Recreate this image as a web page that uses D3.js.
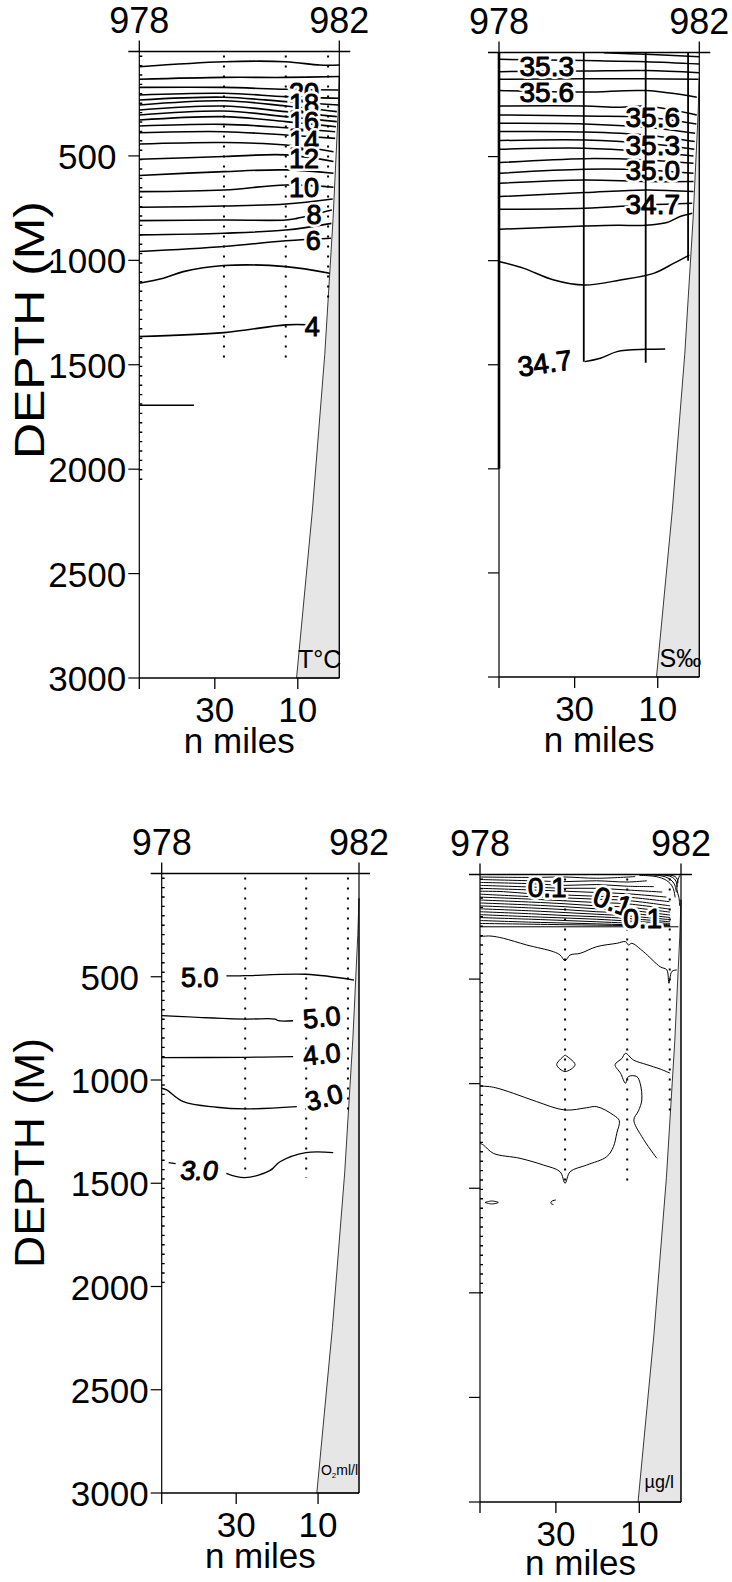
<!DOCTYPE html>
<html><head><meta charset="utf-8">
<script src="https://cdn.jsdelivr.net/npm/d3@7"></script>
<style>body{margin:0;background:#fff} svg text{font-family:"Liberation Sans",Arial,sans-serif}</style>
</head><body><svg id="c" width="732" height="1582"></svg>
<script>
// ---------- DATA (distance in n miles from station 982, depth in m) ----------
const stationNames = ["978", "982"];
const depthTicks = [500, 1000, 1500, 2000, 2500, 3000];
const distTicks = [30, 10];
const distMax = 48.2, depthMax = 3000;
const stationDist = [48.2, 27.8, 12.9, 2.7];
const bathymetry = [[0,120],[0.3,300],[1.5,800],[3.5,1450],[6.5,2200],[10.3,3000]];

// Temperature (°C)
const tempStationDepth = [2080, 1477, 1477, 1180];
const tempContours = [
  [[48.2,73],[27.8,49],[12.9,49],[4.7,65],[0,65]],
  [[48.2,133],[27.8,124],[12.9,124],[0,120]],
  [[48.2,172],[27.8,172],[12.9,181],[0.2,184]],
  [[48.2,208],[27.8,200],[12.9,216],[0.2,224]],
  [[48.2,232],[27.8,219],[12.9,240],[0.2,256]],
  [[48.2,256],[27.8,236],[12.9,261],[0.6,288]],
  [[48.2,280],[27.8,261],[12.9,288],[0.6,312]],
  [[48.2,304],[27.8,285],[12.9,312],[0.6,336]],
  [[48.2,328],[27.8,312],[12.9,336],[0.8,360]],
  [[48.2,357],[27.8,349],[12.9,365],[1.0,384]],
  [[48.2,389],[27.8,384],[12.9,400],[1.0,416]],
  [[48.2,443],[27.8,436],[12.9,448],[1.4,480]],
  [[48.2,516],[27.8,503],[12.9,495],[1.4,527]],
  [[48.2,594],[27.8,575],[12.9,567],[1.4,583]],
  [[48.2,671],[27.8,663],[12.9,639],[1.4,650]],
  [[48.2,746],[27.8,740],[12.9,730],[1.6,706]],
  [[48.2,810],[27.8,807],[12.9,807],[10.2,799],[1.8,759]],
  [[48.2,878],[27.8,870],[12.9,855],[1.9,823]],
  [[48.2,958],[27.8,934],[12.9,906],[2.0,894]],
  [[48.2,1110],[42.4,1086],[37.6,1054],[27.8,1025],[12.9,1030],[2.3,1062]],
  [[48.2,1365],[27.8,1346],[12.9,1309],[7.0,1309]],
  [[48.2,1694],[35.0,1694]]
];
const tempLabelText = ["20","18","16","14","12","10","8","6","4"];
const tempLabelAt = [[8.5,196],[8.5,248],[8.5,336],[8.5,424],[8.5,511],[8.5,649],[6.1,778],[6.3,902],[6.5,1317]];
const tempLabelRot = [0,0,0,0,0,0,0,0,0];

// Salinity (‰)
const salStationDepth = [2000, 1485, 1490, 1000];
const salContours = [
  [[23.0,1],[12.86,9],[0,20]],
  [[48,33],[27.6,39],[12.86,44],[0,55]],
  [[48,92],[27.6,89],[12.86,87],[0,97]],
  [[48,129],[27.6,126],[12.86,126],[0.2,129]],
  [[48,183],[27.6,190],[12.86,183],[0.6,215]],
  [[48,257],[27.6,257],[19.0,263],[12.86,257],[0.6,300]],
  [[48,300],[27.6,305],[12.86,311],[0.7,343]],
  [[48,340],[27.6,343],[12.86,359],[1.0,388]],
  [[48,380],[27.6,382],[12.86,396],[1.1,428]],
  [[48,423],[27.6,420],[12.86,436],[1.2,465]],
  [[48,465],[27.6,460],[12.86,476],[1.4,497]],
  [[48,529],[27.6,510],[12.86,516],[1.4,532]],
  [[48,580],[27.6,561],[12.86,564],[1.4,580]],
  [[48,628],[27.6,612],[12.86,620],[1.4,620]],
  [[48,692],[27.6,673],[12.86,660],[1.4,668]],
  [[48,753],[27.6,748],[12.86,732],[1.7,724]],
  [[48,849],[27.6,834],[19.8,830],[12.86,830],[7.8,817],[4.6,788],[1.7,772]],
  [[48,1005],[42.2,1037],[35.0,1093],[27.6,1117],[19.0,1093],[11.0,1061],[6.2,1013],[2.4,973]],
  [[27.6,1485],[23.8,1469],[19.8,1437],[12.86,1426],[8.2,1424]]
];
const salLabelText = ["35.3","35.6","35.6","35.3","35.0","34.7","34.7"];
const salLabelAt = [[36.7,66],[36.7,190],[11.2,308],[11.2,444],[11.2,564],[11.2,728],[37.2,1491]];
const salLabelRot = [0,0,0,0,0,0,-8];

// Oxygen (ml/l)
const oxyStationDepth = [2000, 1475, 1475, 1150];
const oxyContours = [
  [[32.4,496],[27.9,495],[13.0,488],[1.2,516]],
  [[48.2,688],[27.9,705],[20.5,705],[19.7,713],[16.1,713]],
  [[48.2,892],[27.9,890],[16.1,887]],
  [[48.2,1040],[47.0,1048],[42.9,1105],[34.8,1132],[27.9,1140],[15.2,1129]],
  [[32.4,1452],[27.9,1473],[21.8,1439],[19.3,1396],[13.0,1352],[6.3,1352]],
  [[46.5,1400],[44.8,1405]]
];
const oxyLabelText = ["5.0","5.0","4.0","3.0","3.0"];
const oxyLabelAt = [[38.9,501],[9.1,695],[9.1,874],[8.6,1083],[39.1,1437]];
const oxyLabelRot = [0,-6,-6,-15,0];

// Chlorophyll (µg/l)
const chlStationDepth = [2018, 1476, 1476, 1150];
const chlContours = [
  [[48.2,12],[35.8,14],[27.8,12],[20.2,18],[11,10]],
  [[48.2,24],[35.8,30],[27.8,34],[20.2,30],[13.0,36],[8.2,30]],
  [[48.2,38],[35.8,44],[27.8,52],[20.2,48],[13.0,56],[6.5,58]],
  [[48.2,52],[35.8,60],[27.8,66],[20.2,66],[13.0,74],[4.5,84]],
  [[48.2,66],[35.8,74],[27.8,80],[20.2,86],[13.0,92],[3.5,108]],
  [[48.2,80],[42.6,82],[35.8,92],[27.8,98],[20.2,104],[13.0,108],[2.8,130]],
  [[48.2,94],[35.8,106],[27.8,112],[20.2,118],[13.0,124],[2.6,150]],
  [[48.2,108],[35.8,118],[27.8,126],[20.2,134],[13.0,140],[2.6,166]],
  [[48.2,122],[35.8,132],[27.8,140],[20.2,150],[13.0,156],[2.6,180]],
  [[48.2,136],[35.8,146],[27.8,154],[20.2,164],[13.0,170],[2.6,194]],
  [[48.2,150],[35.8,160],[27.8,168],[20.2,178],[13.0,184],[2.6,206]],
  [[48.2,164],[35.8,174],[27.8,182],[20.2,190],[13.0,198],[2.6,216]],
  [[48.2,178],[35.8,188],[27.8,196],[20.2,202],[13.0,210],[2.6,226]],
  [[48.2,192],[35.8,202],[27.8,208],[20.2,214],[13.0,222],[2.6,234]],
  [[48.2,206],[35.8,214],[27.8,220],[20.2,226],[13.0,232],[2.6,240]],
  [[48.2,220],[35.8,228],[27.8,232],[20.2,236],[13.0,240],[2.6,244]],
  [[48.2,234],[27.8,240],[13.0,244],[2.6,246]],
  [[48.2,250],[0.6,250]],
  [[10,4],[6,10],[3.5,28],[2.0,60],[1.4,110]],
  [[8,2],[4.8,6],[2.8,20],[1.6,45],[1.1,85]],
  [[6,1],[3.6,4],[2.0,14],[1.2,32],[0.9,60]],
  [[4.5,0],[2.6,3],[1.4,10],[0.9,22],[0.7,40]],
  [[0.3,5],[0.8,30],[1.0,70],[0.5,110],[0.3,150]],
  [[48.2,297],[45.8,294],[42.6,305],[37.0,337],[30.6,369],[29.0,385],[27.8,412],[26.6,385],[24.2,377],[20.2,345],[15.4,329],[13.3,321],[12.6,337],[11.8,329],[9.0,369],[5.0,441],[3.4,456],[2.9,520],[2.2,464],[1.0,456]],
  [[27.8,863],[25.4,909],[27.8,942],[29.8,909],[27.8,863]],
  [[2.6,950],[5.0,930],[8.2,909],[11.4,887],[13.3,855],[14.2,880],[15.8,909],[14.5,950],[13.3,998],[12.6,966],[10.6,966],[9.8,998],[9.4,1078],[10.2,1130],[11.3,1173],[9.4,1253],[5.8,1357]],
  [[48.2,1011],[45.0,1017],[40.2,1046],[34.6,1086],[27.8,1126],[22.6,1115],[20.2,1110],[16.2,1150],[14.8,1177],[15.4,1237],[16.2,1301],[17.8,1349],[22.6,1389],[26.6,1421],[27.8,1476],[29.0,1421],[33.0,1389],[38.6,1357],[45.0,1333],[47.4,1293],[48.2,1285]],
  [[47,1568],[45.4,1561],[43.8,1568],[45.4,1575],[47,1568]],
  [[30,1556],[31,1562],[31.2,1572],[30.6,1578]]
];
const chlLabelText = ["0.1","0.1","0.1"];
const chlLabelAt = [[32.1,58],[16.3,127],[9.2,206]];
const chlLabelRot = [0,20,0];

// ---------- LAYOUT ----------
const panels = [
  {x0:139.3,x1:339.3,y0:51.5,y1:678, axisLabels:true, solid:false, lw:1.6, fs:27, depthLabelY:330, depthLabelLen:258,
   contours:tempContours, lt:tempLabelText, la:tempLabelAt, lr:tempLabelRot, st:tempStationDepth, unit:"T°C"},
  {x0:499,x1:699.3,y0:52.5,y1:677, axisLabels:false, solid:true, lw:1.5, fs:28,
   contours:salContours, lt:salLabelText, la:salLabelAt, lr:salLabelRot, st:salStationDepth, unit:"S‰"},
  {x0:161.7,x1:359,y0:873.5,y1:1493, axisLabels:true, solid:false, lw:1.3, fs:27, depthLabelY:1153, depthLabelLen:230,
   contours:oxyContours, lt:oxyLabelText, la:oxyLabelAt, lr:oxyLabelRot, st:oxyStationDepth, unit:"O2", italicLast:true},
  {x0:480,x1:681,y0:874.5,y1:1502, axisLabels:false, solid:false, lw:1.0, fs:28,
   contours:chlContours, lt:chlLabelText, la:chlLabelAt, lr:chlLabelRot, st:chlStationDepth, unit:"µg/l"}
];

const svg = d3.select("#c");

function drawPanel(p){
  const x = d3.scaleLinear().domain([distMax, 0]).range([p.x0, p.x1]);
  const y = d3.scaleLinear().domain([0, depthMax]).range([p.y0, p.y1]);
  const g = svg.append("g");
  const lin = d3.line().x(d => x(d[0])).y(d => y(d[1]));

  // sea floor
  g.append("path").attr("d", lin(bathymetry.concat([[0, depthMax]])) + "Z")
    .attr("fill", "#e6e6e6").attr("stroke", "#222").attr("stroke-width", 0.9);

  // stations
  const drawStations = () => p.st.forEach((md, i) => {
    const sx = x(stationDist[i]);
    if (p.solid) {
      g.append("line").attr("x1", sx).attr("x2", sx).attr("y1", y(0)).attr("y2", y(md))
        .attr("stroke", "#000").attr("stroke-width", i === 0 ? 2.6 : 1.8);
    } else if (i === 0) {
      g.append("line").attr("x1", sx + 1.5).attr("x2", sx + 1.5).attr("y1", y(0) + 4).attr("y2", y(md))
        .attr("stroke", "#000").attr("stroke-width", 3).attr("stroke-dasharray", "1.4,8");
    } else {
      g.append("line").attr("x1", sx).attr("x2", sx).attr("y1", y(0) + 4).attr("y2", y(md))
        .attr("stroke", "#000").attr("stroke-width", 2).attr("stroke-dasharray", "2,8");
    }
  });
  if (!p.solid) drawStations();

  // contours
  const cl = d3.line().x(d => x(d[0])).y(d => y(d[1])).curve(d3.curveCatmullRom.alpha(0.5));
  p.contours.forEach(c => {
    g.append("path").attr("d", cl(c)).attr("fill", "none").attr("stroke", "#000")
      .attr("stroke-width", p.lw).attr("stroke-linejoin", "round");
  });

  // contour labels (white halo then text)
  p.lt.forEach((t, i) => {
    const lx = x(p.la[i][0]), ly = y(p.la[i][1]);
    const it = (p.italicLast && i === p.lt.length - 1) ? "italic" : "normal";
    [["#fff", 6], ["#000", 1.0]].forEach(([sc, sw]) => {
      g.append("text").text(t)
        .attr("transform", `translate(${lx},${ly}) rotate(${p.lr[i]})`)
        .attr("text-anchor", "middle").attr("dy", "0.36em")
        .attr("font-size", p.fs).attr("font-style", it)
        .attr("fill", sc).attr("stroke", sc).attr("stroke-width", sw)
        .attr("stroke-linejoin", "round");
    });
  });

  if (p.solid) drawStations();

  // frame
  const fr = (x1, y1, x2, y2, w) => g.append("line").attr("x1", x1).attr("y1", y1).attr("x2", x2).attr("y2", y2)
      .attr("stroke", "#000").attr("stroke-width", w);
  fr(p.x0, p.y0, p.x0, p.y1, 1.2);
  fr(p.x1, p.y0, p.x1, p.y1, 1.2);
  fr(p.x0, p.y1, p.x1, p.y1, 1.6);
  fr(p.x0 - 11, p.y0, p.x1 + 11, p.y0, 1.3);
  fr(p.x0, p.y0 - 11, p.x0, p.y0, 1.3);
  fr(p.x1, p.y0 - 11, p.x1, p.y0, 1.3);

  // top station labels
  [p.x0, p.x1].forEach((sx, i) => {
    g.append("text").text(stationNames[i]).attr("x", sx).attr("y", p.y0 - 19)
      .attr("text-anchor", "middle").attr("font-size", 36);
  });

  // depth axis
  depthTicks.forEach(d => {
    fr(p.x0 - 11, y(d), p.x0, y(d), 1.2);
    if (p.axisLabels) {
      g.append("text").text(d).attr("x", p.x0 - 52).attr("y", y(d) + 13)
        .attr("text-anchor", "middle").attr("font-size", 35);
    }
  });

  // distance axis
  [distMax].concat(distTicks).forEach(d => fr(x(d), p.y1, x(d), p.y1 + 11, 1.3));
  distTicks.forEach(d => {
    g.append("text").text(d).attr("x", x(d)).attr("y", p.y1 + 44)
      .attr("text-anchor", "middle").attr("font-size", 35);
  });
  g.append("text").text("n miles").attr("x", (p.x0 + p.x1) / 2).attr("y", Math.min(p.y1 + 75, 1575))
    .attr("text-anchor", "middle").attr("font-size", 35);

  // unit label
  if (p.unit === "O2") {
    const t = g.append("text").attr("x", p.x1 - 1).attr("y", p.y1 - 18).attr("text-anchor", "end").attr("font-size", 14);
    t.append("tspan").text("O");
    t.append("tspan").text("2").attr("font-size", 8).attr("dy", 3);
    t.append("tspan").text("ml/l").attr("dy", -3);
  } else if (p.unit === "µg/l") {
    g.append("text").text(p.unit).attr("x", p.x1 - 7).attr("y", p.y1 - 14)
      .attr("text-anchor", "end").attr("font-size", 18);
  } else {
    g.append("text").text(p.unit).attr("x", p.x1 + 2).attr("y", p.y1 - 10)
      .attr("text-anchor", "end").attr("font-size", 25);
  }

  if (p.axisLabels) {
    g.append("text").text("DEPTH (M)")
      .attr("transform", `translate(44,${p.depthLabelY}) rotate(-90)`)
      .attr("text-anchor", "middle").attr("font-size", 42)
      .attr("textLength", p.depthLabelLen).attr("lengthAdjust", "spacingAndGlyphs");
  }
}

panels.forEach(drawPanel);
</script>
</body></html>
